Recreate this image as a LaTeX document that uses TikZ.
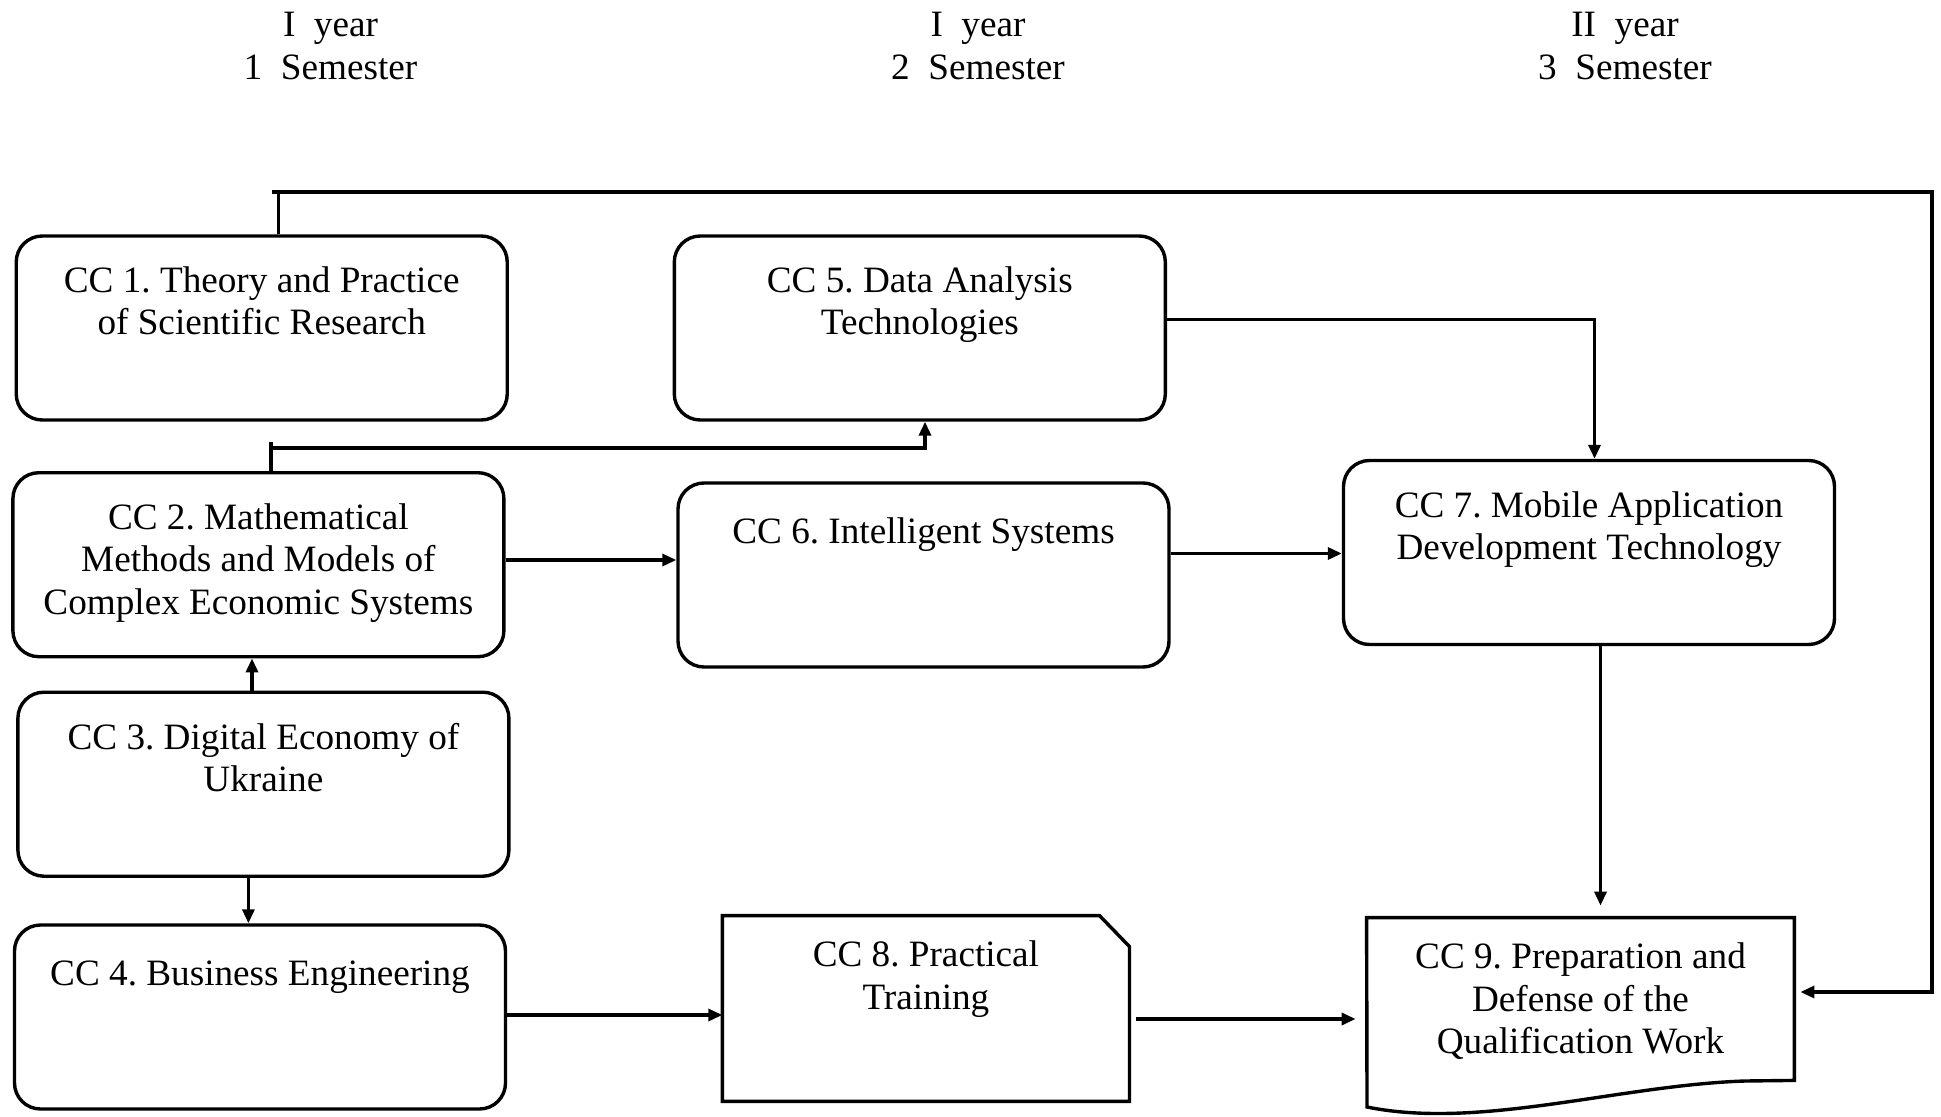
\documentclass[tikz,border=0pt]{standalone}
\usepackage{fontspec}
\setmainfont{Liberation Serif}
\usetikzlibrary{arrows.meta,calc}
\frenchspacing
\begin{document}
\begin{tikzpicture}[x=0.5pt,y=-0.5pt,
  every node/.style={font=\fontsize{18.6}{21.2}\selectfont},
  box/.style={draw, line width=1.7pt, rounded corners=13pt, minimum width=245.5pt, minimum height=92pt, inner sep=0pt},
  ghost/.style={inner sep=0pt},
  txt/.style={anchor=north, align=center, inner sep=0pt, execute at begin node=\strut},
  outline/.style={line width=1.7pt, line join=miter},
  conn/.style={line width=1.65pt},
  arrow/.style={conn, -{Triangle[length=7pt,width=6pt]}},
]
\useasboundingbox (0,0) rectangle (1941,1117);

% headers
\node[txt] (h1) at (330.5,12) {I\ \ year\\1\ \ Semester};
\node[txt] (h2) at (978,12) {I\ \ year\\2\ \ Semester};
\node[txt] (h3) at (1625,12) {II\ \ year\\3\ \ Semester};

% boxes
\node[box] (cc1) at (261.75,328) {};
\node[txt] (cc1t) at ($(cc1.north)+(0,-16pt)$) {CC 1. Theory and Practice\\of Scientific Research};

\node[box] (cc2) at (258.4,564.7) {};
\node[txt] (cc2t) at ($(cc2.north)+(0,-16pt)$) {CC 2. Mathematical\\Methods and Models of\\Complex Economic Systems};

\node[box] (cc3) at (263.4,784.2) {};
\node[txt] (cc3t) at ($(cc3.north)+(0,-16pt)$) {CC 3. Digital Economy of\\Ukraine};

\node[box] (cc4) at (260,1017) {};
\node[txt] (cc4t) at ($(cc4.north)+(0,-16pt)$) {CC 4. Business Engineering};

\node[box] (cc5) at (919.8,328) {};
\node[txt] (cc5t) at ($(cc5.north)+(0,-16pt)$) {CC 5. Data Analysis\\Technologies};

\node[box] (cc6) at (923.5,575) {};
\node[txt] (cc6t) at ($(cc6.north)+(0,-16pt)$) {CC 6. Intelligent Systems};

\node[box] (cc7) at (1589,552.5) {};
\node[txt] (cc7t) at ($(cc7.north)+(0,-16pt)$) {CC 7. Mobile Application\\Development Technology};

\node[ghost, minimum width=203.2pt, minimum height=92.5pt] (cc8) at (925.9,1008.5) {};
\draw[outline] (cc8.south west) -- (cc8.north west) -- ($(cc8.north east)+(-15pt,0)$)
  -- ($(cc8.north east)+(0,-15.5pt)$) -- (cc8.south east) -- cycle;
\node[txt] (cc8t) at ($(cc8.north)+(0,-12.5pt)$) {CC 8. Practical\\Training};

\node[ghost, minimum width=213.5pt, minimum height=81pt] (cc9) at (1580.5,999) {};
\draw[outline] (1367,1107) -- (cc9.north west) -- (cc9.north east) -- (cc9.south east)
  -- (1745,1081) .. controls (1620,1085) and (1480,1130) .. (1367,1107) -- cycle;
\node[txt] (cc9t) at ($(cc9.north)+(0,-12.5pt)$) {CC 9. Preparation and\\Defense of the\\Qualification Work};

% connectors
\coordinate (k1) at (278.5,192);
\coordinate (k1s) at (272,192);
\coordinate (k2) at (1932,192);
\coordinate (k3) at (1932,992);
\draw[conn] (k1 |- cc1.north) -- (k1);
\draw[arrow] (k1s) -- (k2) -- (k3) -- ($(cc9.east |- k3)+(3pt,0)$);

\coordinate (m1) at (271,442);
\coordinate (m2) at (271,448);
\coordinate (m3) at (925,448);
\draw[conn] (m1) -- (m1 |- cc2.north);
\draw[arrow] (m2) -- (m3) -- (m3 |- cc5.south);

\draw[arrow] ([xshift=-5.7pt]cc3.north) -- ([xshift=-5.7pt]cc3.north |- cc2.south);
\draw[arrow] ([xshift=-7.5pt]cc3.south) -- ([xshift=-7.5pt]cc3.south |- cc4.north);

\draw[arrow] ([yshift=2.35pt]cc2.east) -- ([yshift=2.35pt]cc2.east -| cc6.west);
\draw[arrow] ([yshift=10.75pt]cc6.east) -- ([yshift=10.75pt]cc6.east -| cc7.west);
\draw[arrow] ([yshift=4.25pt]cc5.east) -| ([xshift=2.75pt]cc7.north);
\draw[arrow] ([xshift=5.75pt]cc7.south) -- ($(cc7.south |- cc9.north)+(5.75pt,6pt)$);

\draw[arrow] ([yshift=1pt]cc4.east) -- ([yshift=1pt]cc4.east -| cc8.west);
\coordinate (p8) at ($(cc8.east)+(3pt,-5.25pt)$);
\draw[arrow] (p8) -- ($(p8 -| cc9.west)+(-5.5pt,0)$);
\end{tikzpicture}
\end{document}
